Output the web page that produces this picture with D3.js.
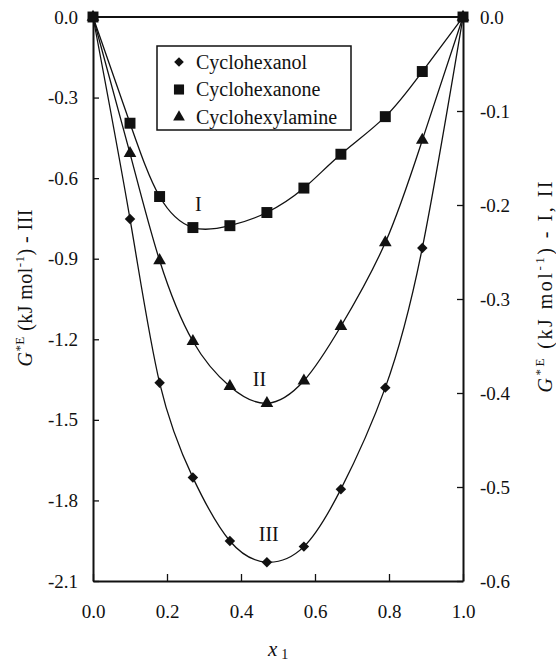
<!DOCTYPE html>
<html>
<head>
<meta charset="utf-8">
<script src="https://cdn.jsdelivr.net/npm/d3@7"></script>
<style>
  body { margin: 0; background: #fff; }
  svg { display: block; font-family: "Liberation Serif", "DejaVu Serif", serif; }
</style>
</head>
<body>
<svg id="chart"></svg>
<script>
// mole fraction x1
const x1 = [0, 0.10, 0.18, 0.27, 0.37, 0.47, 0.57, 0.67, 0.79, 0.89, 1.0];
// G*E, curve III (left axis)
const cyclohexanol = [0, -0.752, -1.362, -1.715, -1.951, -2.030, -1.972, -1.758, -1.380, -0.86, 0];
// G*E, curve I (right axis)
const cyclohexanone = [0, -0.113, -0.191, -0.224, -0.222, -0.208, -0.182, -0.146, -0.106, -0.058, 0];
// G*E, curve II (right axis)
const cyclohexylamine = [0, -0.145, -0.259, -0.345, -0.393, -0.411, -0.387, -0.329, -0.240, -0.131, 0];

const xTicks = [0, 0.2, 0.4, 0.6, 0.8, 1.0];
const leftTicks = [0, -0.3, -0.6, -0.9, -1.2, -1.5, -1.8, -2.1];
const rightTicks = [0, -0.1, -0.2, -0.3, -0.4, -0.5, -0.6];
const legendNames = ['Cyclohexanol', 'Cyclohexanone', 'Cyclohexylamine'];

const w = 556, h = 664;
const plotL = 93, plotR = 463, plotT = 17, plotB = 581;

const svg = d3.select('#chart').attr('width', w).attr('height', h);

const x = d3.scaleLinear().domain([0, 1]).range([plotL, plotR]);
const yL = d3.scaleLinear().domain([-2.1, 0]).range([plotB, plotT]);
const yR = d3.scaleLinear().domain([-0.6, 0]).range([plotB, plotT]);

const fmt = d => d.toFixed(1);

// axes, ticks pointing inward
const xAxis = d3.axisBottom(x).tickValues(xTicks).tickFormat(fmt)
  .tickSizeInner(-7).tickSizeOuter(0).tickPadding(24);
const yAxisL = d3.axisLeft(yL).tickValues(leftTicks).tickFormat(fmt)
  .tickSizeInner(-6).tickSizeOuter(0).tickPadding(15);
const yAxisR = d3.axisRight(yR).tickValues(rightTicks).tickFormat(fmt)
  .tickSizeInner(-6).tickSizeOuter(0).tickPadding(17);

function styleAxis(g) {
  g.select('.domain').attr('stroke', '#111').attr('stroke-width', 2);
  g.selectAll('.tick line').attr('stroke', '#111').attr('stroke-width', 1.3);
  g.selectAll('.tick text').attr('fill', '#111')
    .style('font-family', '"Liberation Serif", serif').style('font-size', '19px');
}

svg.append('g').attr('transform', `translate(0, ${plotB})`).call(xAxis).call(styleAxis);
svg.append('g').attr('transform', `translate(${plotL}, 0)`).call(yAxisL).call(styleAxis);
svg.append('g').attr('transform', `translate(${plotR}, 0)`).call(yAxisR).call(styleAxis);

// top frame line
svg.append('line')
  .attr('x1', plotL).attr('x2', plotR).attr('y1', plotT).attr('y2', plotT)
  .attr('stroke', '#111').attr('stroke-width', 2);

// series
const series = [
  { name: legendNames[0], values: cyclohexanol, y: yL, shape: 'diamond' },
  { name: legendNames[1], values: cyclohexanone, y: yR, shape: 'square' },
  { name: legendNames[2], values: cyclohexylamine, y: yR, shape: 'triangle' }
];

function symbolPath(shape, scale = 1) {
  if (shape === 'diamond') return d3.symbol(d3.symbolSquare, 55 * scale)();
  if (shape === 'square') return d3.symbol(d3.symbolSquare, 120 * scale)();
  return d3.symbol(d3.symbolTriangle, 70 * scale)();
}

series.forEach(s => {
  const pts = x1.map((v, i) => [v, s.values[i]]);
  const line = d3.line()
    .x(d => x(d[0]))
    .y(d => s.y(d[1]))
    .curve(d3.curveNatural);
  svg.append('path')
    .attr('d', line(pts))
    .attr('fill', 'none')
    .attr('stroke', '#111')
    .attr('stroke-width', 1.3);
  svg.append('g').selectAll('path')
    .data(pts)
    .join('path')
      .attr('d', symbolPath(s.shape))
      .attr('transform', d => `translate(${x(d[0])}, ${s.y(d[1])})` + (s.shape === 'diamond' ? ' rotate(45)' : ''))
      .attr('fill', '#111');
});

// curve labels
const curveLabels = [
  { text: 'I', x: 0.285, v: -0.206, y: yR },
  { text: 'II', x: 0.45, v: -0.393, y: yR },
  { text: 'III', x: 0.475, v: -1.95, y: yL }
];
svg.append('g').selectAll('text')
  .data(curveLabels)
  .join('text')
    .attr('x', d => x(d.x))
    .attr('y', d => d.y(d.v))
    .attr('text-anchor', 'middle')
    .attr('font-size', 20)
    .attr('fill', '#111')
    .text(d => d.text);

// legend
const legend = svg.append('g');
legend.append('rect')
  .attr('x', 157).attr('y', 46).attr('width', 194).attr('height', 84)
  .attr('fill', '#fff').attr('stroke', '#111').attr('stroke-width', 1.5);
series.forEach((s, i) => {
  const cy = 62 + i * 27.5;
  legend.append('path')
    .attr('d', symbolPath(s.shape, 0.85))
    .attr('transform', `translate(179, ${cy})` + (s.shape === 'diamond' ? ' rotate(45)' : ''))
    .attr('fill', '#111');
  legend.append('text')
    .attr('x', 196).attr('y', cy + 6.5)
    .attr('font-size', 20)
    .attr('fill', '#111')
    .text(s.name);
});

// x axis title
const xt = svg.append('text').attr('x', 268).attr('y', 656).attr('fill', '#111').attr('font-size', 21);
xt.append('tspan').attr('font-style', 'italic').text('x');
xt.append('tspan').attr('font-size', 14).attr('dx', 4).attr('dy', 3).text('1');

// y axis titles
function yTitle(cx, cy, suffix, len) {
  const t = svg.append('text')
    .attr('transform', `translate(${cx}, ${cy}) rotate(-90)`)
    .attr('text-anchor', 'middle')
    .attr('font-size', 20)
    .attr('fill', '#111')
    .attr('textLength', len)
    .attr('lengthAdjust', 'spacing');
  t.append('tspan').attr('font-style', 'italic').text('G');
  t.append('tspan').attr('font-size', 13).attr('dy', -8).text('*E');
  t.append('tspan').attr('dy', 8).text(' (kJ mol');
  t.append('tspan').attr('font-size', 13).attr('dy', -8).text('-1');
  t.append('tspan').attr('dy', 8).text(') - ' + suffix);
}
yTitle(32, 288, 'III', 157);
yTitle(552, 287, 'I, II', 211);
</script>
</body>
</html>
